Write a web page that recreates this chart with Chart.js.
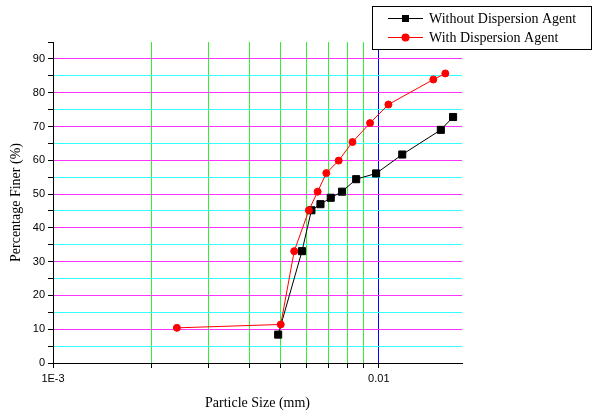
<!DOCTYPE html>
<html>
<head>
<meta charset="utf-8">
<script src="https://cdn.jsdelivr.net/npm/chart.js@4"></script>
<style>
  html, body { margin: 0; padding: 0; background: #fff; }
  #wrap { width: 592px; height: 414px; }
</style>
</head>
<body>
<div id="wrap"><canvas id="chart"></canvas></div>
<script>
// particle size (mm) and percentage finer
const sizesWithout = [0.00491, 0.00581, 0.00621, 0.00662, 0.00712, 0.00771, 0.00852, 0.00981, 0.0118, 0.0155, 0.0169];
const finerWithout = [8.4, 33.1, 45.2, 47.0, 48.9, 50.7, 54.4, 56.1, 61.7, 69.0, 72.8];
const sizesWith = [0.0024, 0.0050, 0.0055, 0.0061, 0.00649, 0.0069, 0.00753, 0.0083, 0.0094, 0.0107, 0.0147, 0.0160];
const finerWith = [10.4, 11.4, 33.1, 45.2, 50.7, 56.2, 59.9, 65.4, 71.0, 76.5, 83.9, 85.7];
const xTicks = [0.001, 0.002, 0.003, 0.004, 0.005, 0.006, 0.007, 0.008, 0.009, 0.01];
const xLabels = { 0.001: '1E-3', 0.01: '0.01' };

const toPoints = (xs, ys) => xs.map((x, i) => ({ x: x, y: ys[i] }));

const legendBox = {
    id: 'legendBox',
    afterDraw(chart) {
        const ctx = chart.ctx;
        ctx.save();
        ctx.fillStyle = '#fff';
        ctx.fillRect(372, 6, 219, 43);
        ctx.strokeStyle = '#000';
        ctx.lineWidth = 1;
        ctx.strokeRect(372.5, 6.5, 219, 43);
        chart.data.datasets.forEach((ds, i) => {
            const y = 18.5 + i * 19;
            ctx.strokeStyle = ds.borderColor;
            ctx.beginPath();
            ctx.moveTo(388, y);
            ctx.lineTo(423, y);
            ctx.stroke();
            ctx.fillStyle = ds.pointBackgroundColor;
            if (ds.pointStyle === 'rect') {
                ctx.fillRect(402, y - 3.5, 7, 7);
            } else {
                ctx.beginPath();
                ctx.arc(405.5, y, 4, 0, Math.PI * 2);
                ctx.fill();
            }
            ctx.fillStyle = '#000';
            ctx.font = '14px "Liberation Serif", serif';
            ctx.textBaseline = 'middle';
            ctx.fillText(ds.label, 429, y + 0.5);
        });
        ctx.restore();
    }
};

const ctx = document.getElementById('chart').getContext('2d');
const chart = new Chart(ctx, {
    type: 'line',
    data: {
        datasets: [
            {
                label: 'Without Dispersion Agent',
                data: toPoints(sizesWithout, finerWithout),
                borderColor: '#000',
                backgroundColor: '#000',
                pointBackgroundColor: '#000',
                pointBorderColor: '#000',
                pointStyle: 'rect',
                pointRadius: 5,
                borderWidth: 1,
                order: 1
            },
            {
                label: 'With Dispersion Agent',
                data: toPoints(sizesWith, finerWith),
                borderColor: '#ff0000',
                backgroundColor: '#ff0000',
                pointBackgroundColor: '#ff0000',
                pointBorderColor: '#ff0000',
                pointStyle: 'circle',
                pointRadius: 3.5,
                borderWidth: 1,
                order: 0
            }
        ]
    },
    options: {
        responsive: true,
        maintainAspectRatio: false,
        animation: false,
        layout: { padding: { left: 0, right: 130, top: 42, bottom: 2 } },
        plugins: {
            legend: { display: false },
            tooltip: { enabled: false }
        },
        scales: {
            x: {
                type: 'logarithmic',
                min: 0.001,
                max: 0.018,
                afterBuildTicks: (scale) => {
                    scale.ticks = xTicks.map(v => ({ value: v }));
                },
                afterFit: (scale) => { scale.height = 49; },
                ticks: {
                    autoSkip: false,
                    maxRotation: 0,
                    color: '#000',
                    font: { family: '"Liberation Sans", Arial, sans-serif', size: 11 },
                    padding: 4,
                    callback: (v) => xLabels[v] || ''
                },
                grid: {
                    color: (c) => {
                        const v = c.tick ? c.tick.value : 0;
                        if (v <= 0.001) return 'rgba(0,0,0,0)';
                        if (Math.abs(v - 0.01) < 1e-9) return '#0000ff';
                        return '#33ee33';
                    },
                    tickColor: '#000',
                    tickLength: 5,
                    lineWidth: 1
                },
                border: { color: '#000', width: 1 },
                title: {
                    display: true,
                    text: 'Particle Size (mm)',
                    color: '#000',
                    font: { family: '"Liberation Serif", serif', size: 14 },
                    padding: { top: 6, bottom: 0 }
                }
            },
            y: {
                min: 0,
                max: 95,
                afterFit: (scale) => { scale.width = 53; },
                ticks: {
                    stepSize: 5,
                    color: '#000',
                    font: { family: '"Liberation Sans", Arial, sans-serif', size: 11 },
                    padding: 3,
                    callback: (v) => (v % 10 === 0 ? v : '')
                },
                grid: {
                    color: (c) => {
                        const v = c.tick ? c.tick.value : 0;
                        if (v <= 0 || v >= 95) return 'rgba(0,0,0,0)';
                        return v % 10 === 0 ? '#ff33ff' : '#33ffff';
                    },
                    tickColor: '#000',
                    tickLength: 5,
                    lineWidth: 1
                },
                border: { color: '#000', width: 1 },
                title: {
                    display: true,
                    text: 'Percentage Finer (%)',
                    color: '#000',
                    font: { family: '"Liberation Serif", serif', size: 14 },
                    padding: { top: 8, bottom: 0 }
                }
            }
        }
    },
    plugins: [legendBox]
});
</script>
</body>
</html>
